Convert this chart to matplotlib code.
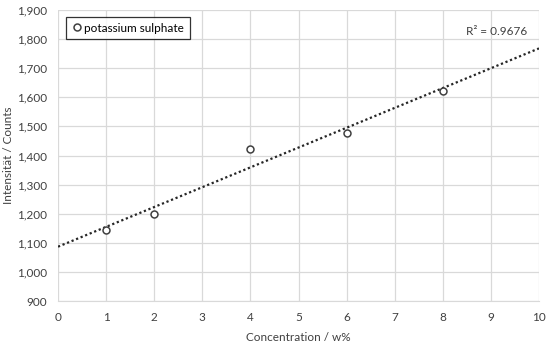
import numpy as np
import matplotlib.pyplot as plt
from matplotlib.ticker import FuncFormatter

# ---------------- data ----------------
concentration = [1, 2, 4, 6, 8]
counts = [1144, 1200, 1422, 1476, 1622]
series_name = 'potassium sulphate'
r2_text = 'R² = 0.9676'

# linear trendline from the points
slope, intercept = np.polyfit(concentration, counts, 1)
x_fit = np.array([0, 10])
y_fit = slope * x_fit + intercept

plt.rcParams['font.family'] = ['Lato', 'DejaVu Sans']

fig = plt.figure(figsize=(5.5, 3.47), dpi=100)
ax = fig.add_axes([58 / 550, 1 - 301 / 347, (539 - 58) / 550, (301 - 10) / 347])

ax.plot(x_fit, y_fit, linestyle=(0, (1, 1.2)), color='#262626', linewidth=1.6, zorder=2)
ax.plot(concentration, counts, linestyle='none', marker='o', markersize=5,
        markerfacecolor='white', markeredgecolor='#404040', markeredgewidth=1.1,
        label=series_name, zorder=3)

ax.set_xlim(0, 10)
ax.set_ylim(900, 1900)
ax.set_xticks(range(0, 11))
ax.set_yticks(range(900, 2000, 100))
ax.yaxis.set_major_formatter(FuncFormatter(lambda v, p: f'{int(v):,}'))
ax.grid(True, color='#d9d9d9', linewidth=0.9)
ax.set_axisbelow(True)
for s in ['top', 'right', 'left']:
    ax.spines[s].set_visible(False)
ax.spines['bottom'].set_color('#d9d9d9')
ax.tick_params(length=0, labelsize=8.5, colors='#404040', pad=8)

ax.set_xlabel('Concentration / w%', fontsize=8.5, color='#404040')
ax.set_ylabel('Intensität / Counts', fontsize=8.5, color='#404040')
ax.xaxis.set_label_coords(0.5, -0.107)
ax.yaxis.set_label_coords(-0.0915, 0.5)

ax.text(9.75, 1825, r2_text, fontsize=8.5, color='#404040', ha='right', va='center')

leg = ax.legend(loc='upper left', bbox_to_anchor=(0.017, 0.975), borderaxespad=0,
                fontsize=8.5, frameon=True, fancybox=False, handletextpad=0.1,
                handlelength=1, borderpad=0.45, markerscale=1)
leg.get_frame().set_edgecolor('black')
leg.get_frame().set_linewidth(0.9)

fig.savefig('out.png', dpi=100)
